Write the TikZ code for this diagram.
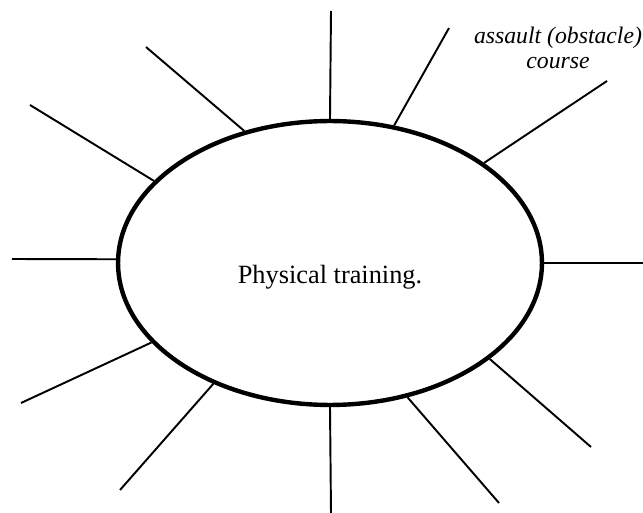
\documentclass[tikz,border=0pt]{standalone}
\usepackage{fontspec}
\setmainfont{Liberation Serif}
\usetikzlibrary{shapes}

\begin{document}
\begin{tikzpicture}[x = 0.02cm, y = -0.02cm]
	\tikzstyle{ovalStyle}=[shape = ellipse, minimum width = 8.48cm, minimum height = 5.68cm, inner sep = 0pt, line width = 2.5pt, draw]
	\tikzstyle{spokeStyle}=[line width = 1.1pt]
	\tikzstyle{titleStyle}=[inner sep = 0pt, font = \fontsize{15}{18}\selectfont]
	\tikzstyle{noteStyle}=[align = center, inner sep = 0pt, font = \fontsize{13.5}{14.2}\selectfont\itshape]
	\useasboundingbox (0,0) rectangle (643,513);
	\node[ovalStyle] (oval) at (330,263) {};
	\node[titleStyle] (title) at (330,277) {Physical training.};
	\node[noteStyle] (note) at (558,48) {assault (obstacle)\\course};
	\coordinate (e0) at (331,11);
	\coordinate (e1) at (449,28);
	\coordinate (e2) at (607,81);
	\coordinate (e3) at (643,263);
	\coordinate (e4) at (591,447);
	\coordinate (e5) at (499,503);
	\coordinate (e6) at (331,513);
	\coordinate (e7) at (120,490);
	\coordinate (e8) at (21,403);
	\coordinate (e9) at (12,259);
	\coordinate (e10) at (30,105);
	\coordinate (e11) at (146,47);
	\draw[spokeStyle] (oval.90) -- (e0);
	\draw[spokeStyle] (oval.65) -- (e1);
	\draw[spokeStyle] (oval.33) -- (e2);
	\draw[spokeStyle] (oval.0) -- (e3);
	\draw[spokeStyle] (oval.329) -- (e4);
	\draw[spokeStyle] (oval.300) -- (e5);
	\draw[spokeStyle] (oval.270) -- (e6);
	\draw[spokeStyle] (oval.226) -- (e7);
	\draw[spokeStyle] (oval.204) -- (e8);
	\draw[spokeStyle] (oval.179) -- (e9);
	\draw[spokeStyle] (oval.155) -- (e10);
	\draw[spokeStyle] (oval.123) -- (e11);
\end{tikzpicture}
\end{document}
